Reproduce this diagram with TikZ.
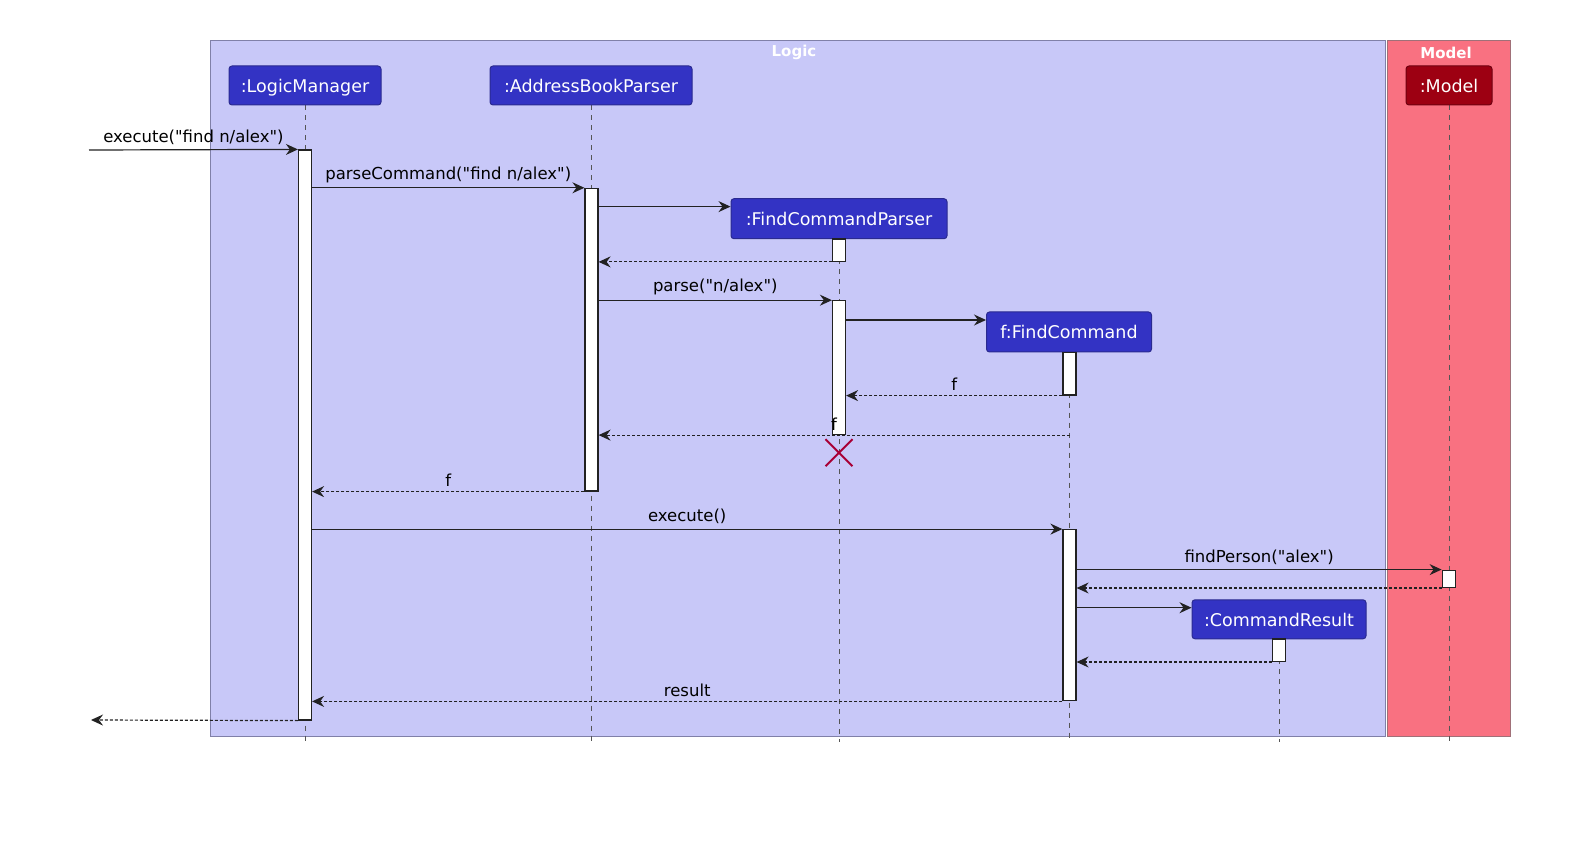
\documentclass[tikz,border=0pt]{standalone}
\usepackage{fontspec}
\setmainfont{DejaVu Sans}[Ligatures=TeXOff]
\usetikzlibrary{calc, positioning}
\usetikzlibrary{arrows.meta}
\usetikzlibrary{shapes.misc}
\usetikzlibrary{backgrounds}

\definecolor{logicbg}{HTML}{C8C8F8}
\definecolor{logicline}{HTML}{8080A8}
\definecolor{modelbg}{HTML}{F97181}
\definecolor{modelline}{HTML}{A07078}
\definecolor{partblue}{HTML}{3333C4}
\definecolor{partblueline}{HTML}{2A2A90}
\definecolor{partred}{HTML}{9D0012}
\definecolor{partredline}{HTML}{700010}
\definecolor{xred}{HTML}{A80036}
\definecolor{msgline}{HTML}{222222}
\definecolor{lifegray}{HTML}{555555}

\tikzset{
  participant/.style={draw=partblueline, fill=partblue, text=white, rounded corners=3pt,
    minimum height=39pt, inner sep=0pt, line width=1pt, text height=14pt, text depth=0pt,
    font=\fontsize{17.5}{20}\selectfont},
  modelpart/.style={participant, draw=partredline, fill=partred},
  activation/.style={draw=msgline, fill=white, line width=1.2pt, minimum width=13pt, inner sep=0pt},
  msg/.style={draw=msgline, line width=1.2pt, -{Stealth[length=12pt,width=11pt,inset=4pt]}},
  ret/.style={msg, dash pattern=on 3pt off 2pt},
  lifeline/.style={draw=lifegray, line width=1pt, dash pattern=on 5pt off 5pt},
  msglabel/.style={font=\fontsize{16.5}{18}\selectfont, inner sep=0pt, above=4.5pt, text=black},
  boxtitle/.style={font=\bfseries\fontsize{15}{17}\selectfont, text=white, inner sep=0pt},
}

% activation bar: name, x, top, bottom
\newcommand{\actbar}[4]{\node[activation, minimum height={(#4-#3)*1pt}] (#1) at (#2,{(#3+#4)/2}) {};}

\begin{document}
\begin{tikzpicture}[x=1pt,y=-1pt]
\useasboundingbox (0,0) rectangle (1588,842);

% participants
\node[participant, minimum width=152pt] (lm) at (305,85.5) {:LogicManager};
\node[participant, minimum width=202pt] (abp) at (591,85.5) {:AddressBookParser};
\node[participant, minimum width=216pt, minimum height=40pt] (fcp) at (839,218.7) {:FindCommandParser};
\node[participant, minimum width=165pt, minimum height=40pt] (fc) at (1069,332) {f:FindCommand};
\node[participant, minimum width=174pt] (cr) at (1279,619.3) {:CommandResult};
\node[modelpart, minimum width=86pt] (mod) at (1449,85.5) {:Model};

\node[boxtitle] (logictitle) at (794,52.5) {Logic};
\node[boxtitle] (modeltitle) at (1446,52.5) {Model};

% activation bars
\actbar{lm1}{305}{150}{720}
\actbar{abp1}{591.5}{188.4}{491}
\actbar{fcp1}{839}{239}{261.3}
\actbar{fcp2}{839}{300.8}{434.5}
\actbar{fc1}{1069.5}{352.5}{395}
\actbar{fc2}{1069.5}{529.7}{700.8}
\actbar{mod1}{1448.7}{570.2}{587.4}
\actbar{cr1}{1279}{639}{661.4}

\coordinate (callin) at (89,150);
\coordinate (callout) at (91,720);
\coordinate (mkfcp) at (0,206.6);
\coordinate (mkfc) at (0,320);
\coordinate (mkcr) at (0,607.7);
\coordinate (lifeend) at (0,742);

% messages
\draw[msg] (callin) -- (lm1.north west) node[msglabel, midway] (l1) {execute("find n/alex")};
\draw[msg] (lm1.east |- abp1.north) -- (abp1.north west) node[msglabel, midway] (l2) {parseCommand("find n/alex")};
\draw[msg] (abp1.east |- mkfcp) -- (fcp.west |- mkfcp);
\draw[ret] (fcp1.south west) -- (abp1.east |- fcp1.south);
\draw[msg] (abp1.east |- fcp2.north) -- (fcp2.north west) node[msglabel, midway] (l3) {parse("n/alex")};
\draw[msg] (fcp2.east |- mkfc) -- (fc.west |- mkfc);
\draw[ret] (fc1.south west) -- (fcp2.east |- fc1.south) node[msglabel, midway] (l4) {f};
\draw[ret] (fc1.south |- fcp2.south) -- (abp1.east |- fcp2.south) node[msglabel, midway] (l5) {f};
\draw[ret] (abp1.south west) -- (lm1.east |- abp1.south) node[msglabel, midway] (l6) {f};
\draw[msg] (lm1.east |- fc2.north) -- (fc2.north west) node[msglabel, midway] (l7) {execute()};
\draw[msg] (fc2.east |- mod1.north) -- (mod1.north west) node[msglabel, midway] (l8) {findPerson("alex")};
\draw[ret] (mod1.south west) -- (fc2.east |- mod1.south);
\draw[msg] (fc2.east |- mkcr) -- (cr.west |- mkcr);
\draw[ret] (cr1.south west) -- (fc2.east |- cr1.south);
\draw[ret] (fc2.south west) -- (lm1.east |- fc2.south) node[msglabel, midway] (l9) {result};
\draw[ret] (lm1.south west) -- (callout);

% destroy
\node[cross out, draw=xred, line width=2pt, minimum size=25pt, inner sep=0pt] (fcpx) at (839,452.7) {};

\begin{scope}[on background layer]
\draw[draw=logicline, fill=logicbg, line width=1pt] (210.7,40.5) rectangle (1385.5,736);
\draw[draw=modelline, fill=modelbg, line width=1pt] (1387.5,40.5) rectangle (1510,736);
\draw[lifeline] (lm.south) -- (lm.south |- lifeend);
\draw[lifeline] (abp.south) -- (abp.south |- lifeend);
\draw[lifeline] (fcp.south) -- (fcp.south |- lifeend);
\draw[lifeline] (fc.south) -- (fc.south |- lifeend);
\draw[lifeline] (cr.south) -- (cr.south |- lifeend);
\draw[lifeline] (mod.south) -- (mod.south |- lifeend);
\end{scope}
\end{tikzpicture}
\end{document}
